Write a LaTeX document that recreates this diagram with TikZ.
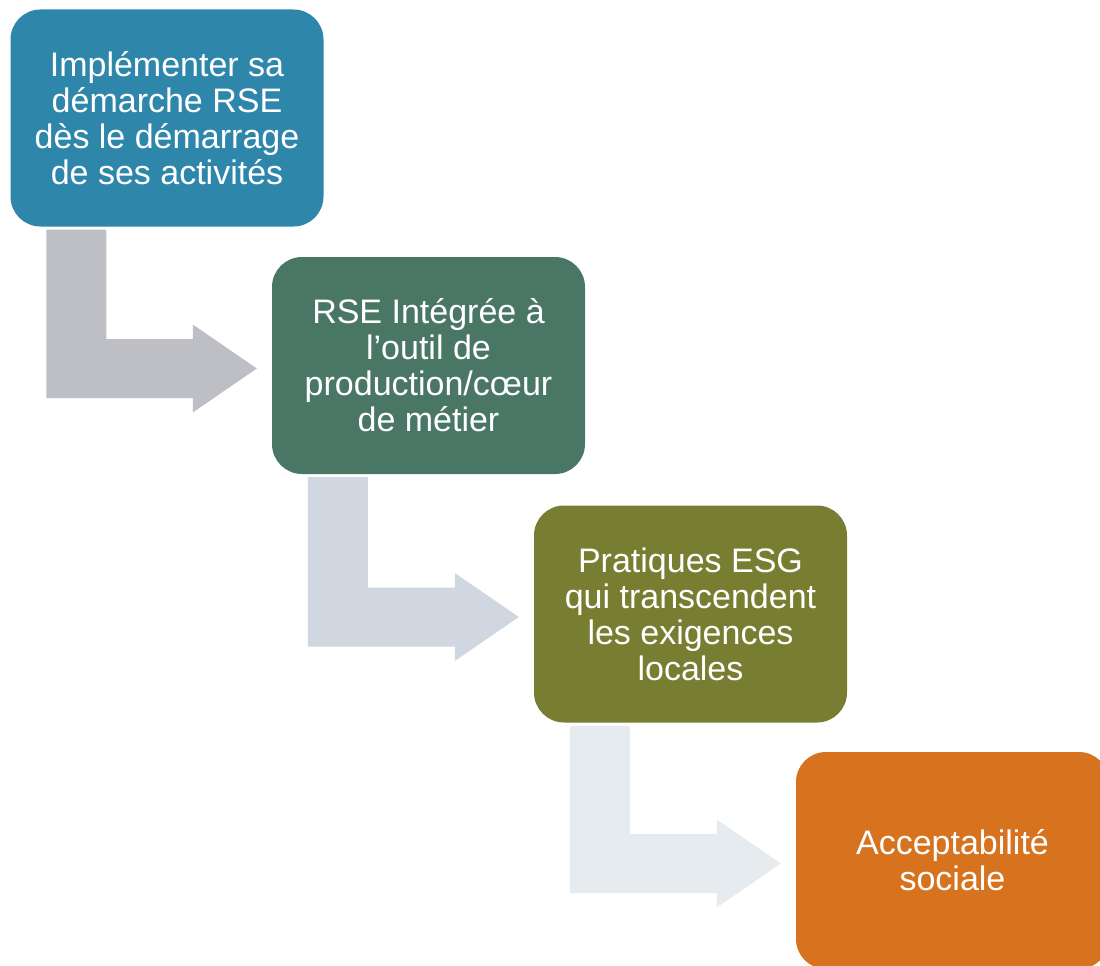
\documentclass[tikz,border=0pt]{standalone}
\usepackage{fontspec}
\setmainfont{Liberation Sans}
\usepackage{tikz}
\usetikzlibrary{calc}
\definecolor{rseblue}{HTML}{2E86AB}
\definecolor{rsegreen}{HTML}{4A7765}
\definecolor{rseolive}{HTML}{777E31}
\definecolor{rseorange}{HTML}{D7731E}
\definecolor{arrowgray}{HTML}{BEBFC4}
\definecolor{arrowslate}{HTML}{D0D7E0}
\definecolor{arrowmist}{HTML}{E6EBF0}
\tikzset{
	stepbox/.style={rectangle, rounded corners=30pt, minimum width=313pt, minimum height=217pt, inner sep=0pt, align=center, text=white, font=\fontsize{34}{36}\selectfont}
}
\newcommand{\bentarrow}[3]{%
	\fill[#1] let \p1=(#2.south west), \p2=(#3.west) in
		(\x1+36pt,\y1-3pt) -- (\x1+96pt,\y1-3pt) -- (\x1+96pt,\y2+26.5pt) -- (\x2-79pt,\y2+26.5pt)
		-- (\x2-79pt,\y2+41pt) -- (\x2-15pt,\y2-3pt) -- (\x2-79pt,\y2-47pt) -- (\x2-79pt,\y2-32.5pt)
		-- (\x1+36pt,\y2-32.5pt) -- cycle;%
}

\begin{document}
\begin{tikzpicture}[x=1pt,y=-1pt]
			\useasboundingbox (0,0) rectangle (1100,966);
			\node[stepbox, fill=rseblue] (implementer) at (167,118) {Implémenter sa\\démarche RSE\\dès le démarrage\\de ses activités};
			\node[stepbox, fill=rsegreen] (integree) at (428.5,365.5) {RSE Intégrée à\\l’outil de\\production/cœur\\de métier};
			\node[stepbox, fill=rseolive] (pratiques) at (690.5,614) {Pratiques ESG\\qui transcendent\\les exigences\\locales};
			\node[stepbox, fill=rseorange] (acceptabilite) at (952.5,860.5) {Acceptabilité\\sociale};

			\bentarrow{arrowgray}{implementer}{integree}
			\bentarrow{arrowslate}{integree}{pratiques}
			\bentarrow{arrowmist}{pratiques}{acceptabilite}
		\end{tikzpicture}
\end{document}
